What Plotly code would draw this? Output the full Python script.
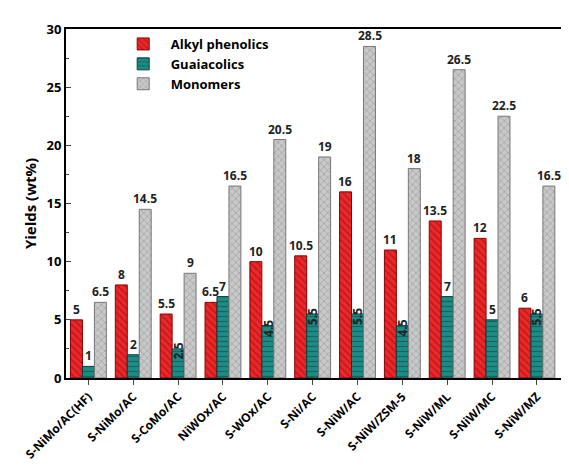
import plotly.graph_objects as go

categorias = ["S-NiMo/AC(HF)", "S-NiMo/AC", "S-CoMo/AC", "NiWOx/AC", "S-WOx/AC", "S-Ni/AC",
              "S-NiW/AC", "S-NiW/ZSM-5", "S-NiW/ML", "S-NiW/MC", "S-NiW/MZ"]
alkyl = [5, 8, 5.5, 6.5, 10, 10.5, 16, 11, 13.5, 12, 6]
guaiacolics = [1, 2, 2.5, 7, 4.5, 5.5, 5.5, 4.5, 7, 5, 5.5]
monomers = [6.5, 14.5, 9, 16.5, 20.5, 19, 28.5, 18, 26.5, 22.5, 16.5]

def fmt(v):
    return f"{v:g}"

fig = go.Figure()
series = [
    ("Alkyl phenolics", alkyl, "#e8282a", "#8b0000", "\\"),
    ("Guaiacolics", guaiacolics, "#1e8c86", "#0b3f3c", "-"),
    ("Monomers", monomers, "#c8c8c8", "#777777", "x"),
]
for nombre, vals, color, borde, patron in series:
    fig.add_trace(go.Bar(
        x=categorias, y=vals, name=f"<b>{nombre}</b>",
        marker=dict(color=color, line=dict(color=borde, width=1),
                    pattern=dict(shape=patron, fgcolor=borde, size=5, solidity=0.25)),
    ))

# etiquetas de valores
anot = []
for i, (nombre, vals, *_ ) in enumerate(series):
    off = (i - 1) * 0.27
    for j, v in enumerate(vals):
        rot = (nombre == "Guaiacolics" and v % 1 != 0)
        anot.append(dict(
            x=j + off, y=v, xref="x", yref="y", text=f"<b>{fmt(v)}</b>", showarrow=False,
            textangle=-90 if rot else 0,
            yanchor="top" if rot else "bottom", yshift=8 if rot else 0,
            font=dict(size=12, color="#222", family="Open Sans")))

fig.update_layout(
    width=569, height=466, barmode="group", bargap=0.2, bargroupgap=0.0,
    plot_bgcolor="white", paper_bgcolor="white",
    margin=dict(l=58, r=12, t=15, b=78),
    font=dict(family="Open Sans", size=12, color="black"),
    annotations=anot,
    legend=dict(x=0.1, y=1.0, xanchor="left", yanchor="top", bgcolor="rgba(0,0,0,0)",
                font=dict(size=13, family="Open Sans"), itemwidth=45),
    yaxis=dict(title=dict(text="<b>Yields (wt%)</b>", font=dict(size=15), standoff=6),
               range=[0, 30], dtick=5, ticks="inside", ticklen=5, linewidth=2, linecolor="black",
               mirror=True, showgrid=False, tickfont=dict(size=13, weight="bold"),
               minor=dict(ticks="inside", ticklen=3, dtick=2.5)),
    xaxis=dict(tickangle=-45, ticks="outside", ticklen=5, linewidth=2, linecolor="black",
               mirror=True, showgrid=False, tickfont=dict(size=12, weight="bold")),
)

fig.write_html("out.html")
